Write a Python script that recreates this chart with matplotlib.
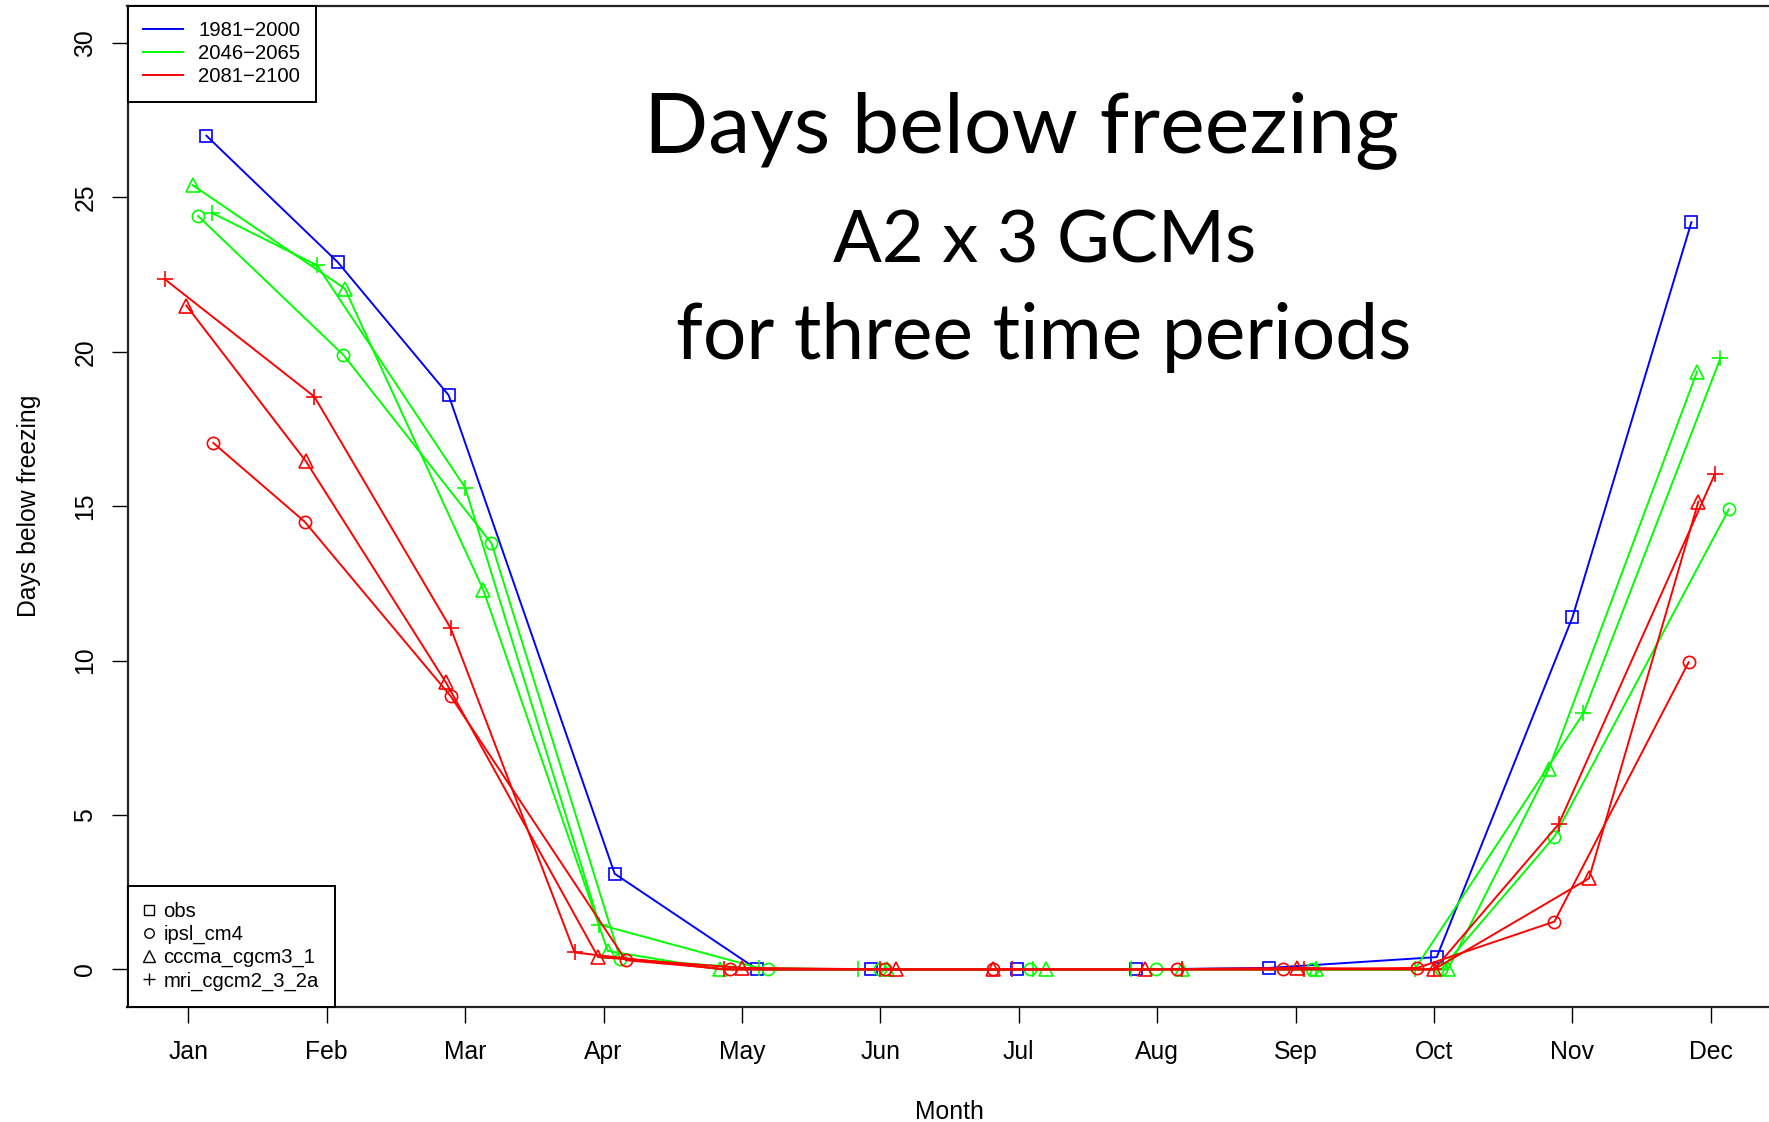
import matplotlib
matplotlib.use("Agg")
import matplotlib.pyplot as plt
from matplotlib.lines import Line2D

# ---- data -------------------------------------------------------------
months = ["Jan", "Feb", "Mar", "Apr", "May", "Jun",
          "Jul", "Aug", "Sep", "Oct", "Nov", "Dec"]
periods = ["1981\u22122000", "2046\u22122065", "2081\u22122100"]
models = ["obs", "ipsl_cm4", "cccma_cgcm3_1", "mri_cgcm2_3_2a"]

# observations, 1981-2000 (x = month position of each point)
obs_x = [1.13, 2.08, 2.88, 4.08, 5.11, 5.93, 6.99, 7.85, 8.81, 10.02, 11.00, 11.86]
obs_days = [27.0, 22.9, 18.6, 3.1, 0.0, 0.0, 0.0, 0.0, 0.05, 0.4, 11.4, 24.2]

# ipsl_cm4
ipsl_mid_x = [1.07, 2.12, 3.19, 4.12, 5.19, 6.00, 7.08, 7.99, 9.12, 10.05, 10.87, 12.13]
ipsl_mid_days = [24.4, 19.9, 13.8, 0.35, 0.0, 0.0, 0.0, 0.0, 0.0, 0.0, 4.3, 14.9]
ipsl_end_x = [1.18, 1.84, 2.895, 4.16, 4.91, 6.03, 6.81, 8.14, 8.91, 9.88, 10.87, 11.84]
ipsl_end_days = [17.05, 14.5, 8.85, 0.3, 0.0, 0.0, 0.0, 0.0, 0.0, 0.05, 1.55, 9.95]

# cccma_cgcm3_1
cccma_mid_x = [1.03, 2.13, 3.13, 4.03, 4.84, 6.05, 7.20, 8.18, 9.15, 10.10, 10.83, 11.90]
cccma_mid_days = [25.4, 22.05, 12.3, 0.6, 0.0, 0.0, 0.0, 0.0, 0.0, 0.0, 6.5, 19.35]
cccma_end_x = [0.985, 1.85, 2.86, 3.96, 5.00, 6.11, 6.81, 7.91, 9.01, 10.00, 11.12, 11.91]
cccma_end_days = [21.5, 16.45, 9.3, 0.4, 0.05, 0.0, 0.0, 0.0, 0.05, 0.0, 2.95, 15.15]

# mri_cgcm2_3_2a
mri_mid_x = [1.17, 1.93, 3.00, 3.97, 5.12, 5.84, 7.10, 7.81, 9.15, 9.86, 11.08, 12.07]
mri_mid_days = [24.5, 22.8, 15.6, 1.45, 0.05, 0.0, 0.0, 0.0, 0.0, 0.0, 8.3, 19.8]
mri_end_x = [0.83, 1.91, 2.895, 3.79, 4.87, 6.00, 6.95, 8.18, 9.06, 10.00, 10.90, 12.03]
mri_end_days = [22.35, 18.55, 11.05, 0.55, 0.0, 0.0, 0.0, 0.0, 0.0, 0.0, 4.7, 16.05]

# ---- styles -----------------------------------------------------------
BLUE, GREEN, RED = "#0000FF", "#00FF00", "#FF0000"
period_colors = [BLUE, GREEN, RED]
model_markers = ["s", "o", "^", "+"]
marker_sizes = {"s": 8.6, "o": 8.8, "^": 10.7, "+": 11.8}
legend_marker_sizes = {"s": 6.8, "o": 6.8, "^": 8.4, "+": 9.2}

plt.rcParams["font.family"] = ["Liberation Sans", "DejaVu Sans"]

W, H = 1769, 1122
fig = plt.figure(figsize=(W / 100, H / 100), dpi=100)
# the plotting region runs slightly past the right edge of the figure
ax = fig.add_axes([127.5 / W, 1 - 1006.5 / H, (1771.7 - 127.5) / W, (1006.5 - 6.0) / H])

series = [
    (obs_x, obs_days, BLUE, "s"),
    (ipsl_mid_x, ipsl_mid_days, GREEN, "o"),
    (cccma_mid_x, cccma_mid_days, GREEN, "^"),
    (mri_mid_x, mri_mid_days, GREEN, "+"),
    (ipsl_end_x, ipsl_end_days, RED, "o"),
    (cccma_end_x, cccma_end_days, RED, "^"),
    (mri_end_x, mri_end_days, RED, "+"),
]
for xs, ys, col, mk in series:
    ax.plot(xs, ys, color=col, lw=1.4, marker=mk, ms=marker_sizes[mk],
            mfc="none", mec=col, mew=1.2, zorder=3)

ax.set_xlim(0.56, 12.44)
ax.set_ylim(-1.2, 31.2)
ax.set_xticks(range(1, 13))
ax.set_xticklabels(months)
ax.set_yticks(range(0, 31, 5))
ax.tick_params(axis="both", direction="out", length=11.2, width=1.0,
               labelsize=17.8, color="black")
ax.tick_params(axis="x", pad=13)
ax.tick_params(axis="y", pad=10.5)
for lab in ax.get_yticklabels():
    lab.set_rotation(90)
    lab.set_va("center")
for s in ax.spines.values():
    s.set_linewidth(1.6)
    s.set_color("#222222")

ax.set_xlabel("Month", fontsize=17.8, labelpad=26)
ax.set_ylabel("Days below freezing", fontsize=17.8, labelpad=23)

# legend of time periods
period_handles = [Line2D([], [], color=c, lw=1.4) for c in period_colors]
leg1 = ax.legend(period_handles, periods, loc="upper left", bbox_to_anchor=(0, 1),
                 borderaxespad=0, fontsize=14.6, frameon=True, fancybox=False,
                 edgecolor="black", framealpha=1, borderpad=0.75, labelspacing=0.2,
                 handlelength=2.0, handletextpad=0.75)
leg1.get_frame().set_linewidth(1.4)
ax.add_artist(leg1)

# legend of models
model_handles = [Line2D([], [], ls="none", marker=m, ms=legend_marker_sizes[m],
                        mfc="none", mec="black", mew=1.0) for m in model_markers]
leg2 = ax.legend(model_handles, models, loc="lower left", bbox_to_anchor=(0, 0),
                 borderaxespad=0, fontsize=14.6, frameon=True, fancybox=False,
                 edgecolor="black", framealpha=1, borderpad=0.78, labelspacing=0.2,
                 handlelength=0.55, handletextpad=0.45)
leg2.get_frame().set_linewidth(1.4)

# overlaid heading
title_lines = [
    ("Days below freezing", 1021.0, 152.3, 60.8),
    ("A2 x 3 GCMs", 1044.5, 262.8, 52.0),
    ("for three time periods", 1044.0, 358.7, 55.3),
]
for txt, cx, base, size in title_lines:
    fig.text(cx / W, 1 - base / H, txt, fontsize=size, family="Lato",
             ha="center", va="baseline", color="black")

fig.savefig("out.png", dpi=100)
